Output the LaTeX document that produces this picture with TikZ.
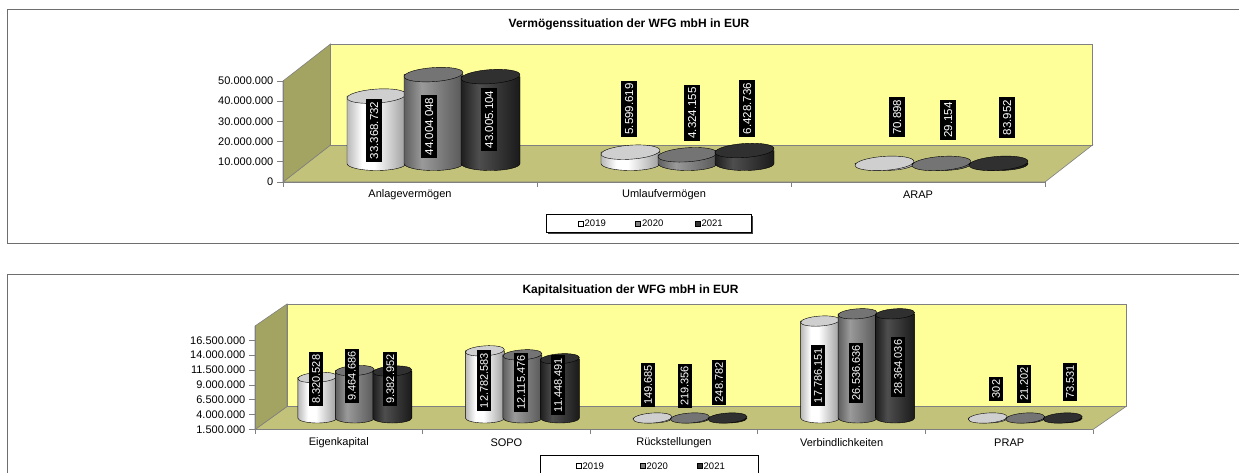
\documentclass[tikz,border=0pt]{standalone}
\usepackage{fontspec}
\setmainfont{Liberation Sans}
\usetikzlibrary{shadows}
\definecolor{backwall}{HTML}{FFFF99}
\definecolor{sidewall}{HTML}{A3A362}
\definecolor{floorc}{HTML}{C2C27A}
\definecolor{edgec}{HTML}{808080}
\definecolor{framec}{HTML}{6E6E6E}
\definecolor{aL}{HTML}{B8B8B8}
\definecolor{aR}{HTML}{9E9E9E}
\definecolor{topA}{HTML}{CFCFCF}
\definecolor{bL}{HTML}{5E5E5E}
\definecolor{bM}{HTML}{9A9A9A}
\definecolor{bR}{HTML}{585858}
\definecolor{topB}{HTML}{747474}
\definecolor{cL}{HTML}{1E1E1E}
\definecolor{cM}{HTML}{4E4E4E}
\definecolor{cR}{HTML}{1A1A1A}
\definecolor{topC}{HTML}{303030}
\definecolor{legB}{HTML}{808080}
\definecolor{legC}{HTML}{333333}
\pgfdeclarehorizontalshading{bodyA}{100bp}{color(0bp)=(aL); color(25bp)=(aL); color(38bp)=(white); color(48bp)=(white); color(75bp)=(aR); color(100bp)=(aR)}
\pgfdeclarehorizontalshading{bodyB}{100bp}{color(0bp)=(bL); color(25bp)=(bL); color(40bp)=(bM); color(75bp)=(bR); color(100bp)=(bR)}
\pgfdeclarehorizontalshading{bodyC}{100bp}{color(0bp)=(cL); color(25bp)=(cL); color(40bp)=(cM); color(75bp)=(cR); color(100bp)=(cR)}
\newcommand\cylinder[6]{%
  \begin{scope}[shift={(#1,#2)}]
    \shadedraw[shading=body#6, draw=black, line width=0.4pt]
      (-#4,-#3) -- (-#4,0) arc[start angle=180, end angle=0, x radius=#4, y radius=#5] -- (#4,-#3) -- cycle;
    \filldraw[fill=top#6, draw=black, line width=0.4pt, rotate around={4:(0,-#3)}]
      (0,-#3) ellipse[x radius=#4, y radius=#5];
  \end{scope}}
\tikzset{
  wallline/.style={draw=edgec, line width=0.6pt},
  axline/.style={draw=edgec, line width=0.7pt},
  chartframe/.style={draw=framec, line width=0.9pt},
  axlab/.style={anchor=east, inner sep=0pt, font=\fontsize{11}{12}\selectfont},
  catlab/.style={inner sep=0pt, font=\fontsize{11}{12}\selectfont},
  titlelab/.style={inner sep=0pt, font=\bfseries\fontsize{12}{14}\selectfont},
  dlab/.style={fill=black, text=white, rotate=90, inner xsep=2.5pt, inner ysep=3.9pt,
    text height=8.2pt, text depth=0pt, font=\fontsize{11.5}{12}\selectfont},
  dlabB/.style={dlab, inner ysep=3.1pt, text height=7.8pt, font=\fontsize{11}{12}\selectfont},
  legbox/.style={draw=black, line width=0.9pt, fill=white, inner sep=0pt,
    drop shadow={shadow xshift=1.2pt, shadow yshift=-1.2pt, fill=black!75, opacity=1}},
  legmark/.style={draw=black, line width=0.4pt, minimum size=5pt, inner sep=0pt},
  legtext/.style={anchor=west, inner sep=0pt, font=\fontsize{9.5}{11}\selectfont},
}
\begin{document}
\begin{tikzpicture}[x=1pt,y=-1pt]
\useasboundingbox (0,0) rectangle (1239,472);
\fill[white] (0,0) rectangle (1239,472);

% ---------- frames ----------
\draw[chartframe] (7,9) rectangle (1262,243);
\draw[chartframe] (7,274) rectangle (1262,495);

% ================= TOP CHART =================
\node[titlelab] (t1) at (629,24) {Vermögenssituation der WFG mbH in EUR};
\filldraw[wallline, fill=floorc] (283,182) -- (1045,182) -- (1092.5,145) -- (330.5,145) -- cycle;
\filldraw[wallline, fill=backwall] (330.5,145) rectangle (1092.5,44);
\filldraw[wallline, fill=sidewall] (283,182) -- (283,81) -- (330.5,44) -- (330.5,145) -- cycle;
\draw[axline] (283,182) -- (283,81);
\draw[axline] (283,182) -- (1045,182);
\foreach \yy/\lab [count=\i] in {182/0, 161.8/10.000.000, 141.6/20.000.000, 121.4/30.000.000, 101.2/40.000.000, 81/50.000.000}{
  \draw[axline] (277,\yy) -- (283,\yy);
  \node[axlab] (ya\i) at (273.5,\yy) {\lab};
}
\foreach \xx in {283,537,791,1045}{ \draw[axline] (\xx,182) -- (\xx,186.5); }
\node[catlab] (ca1) at (410,195) {Anlagevermögen};
\node[catlab] (ca2) at (664,195) {Umlaufvermögen};
\node[catlab] (ca3) at (918,195) {ARAP};

\cylinder{376.5}{163.5}{67.40}{29.5}{7}{A}
\cylinder{433.5}{163.5}{88.89}{29.5}{7}{B}
\cylinder{490.5}{163.5}{86.87}{29.5}{7}{C}
\cylinder{630.5}{163.5}{11.31}{29.5}{7}{A}
\cylinder{687.5}{163.5}{8.73}{29.5}{7}{B}
\cylinder{744.5}{163.5}{12.99}{29.5}{7}{C}
\cylinder{884.5}{163.5}{0.14}{29.5}{7}{A}
\cylinder{941.5}{163.5}{0.06}{29.5}{7}{B}
\cylinder{998.5}{163.5}{0.17}{29.5}{7}{C}

\node[dlab] (la1) at (374,130.5) {33.368.732};
\node[dlab] (la2) at (429,126.5) {44.004.048};
\node[dlab] (la3) at (489,119.5) {43.005.104};
\node[dlab] (lu1) at (629,109) {5.599.619};
\node[dlab] (lu2) at (692,113) {4.324.155};
\node[dlab] (lu3) at (747,108.5) {6.428.736};
\node[dlab] (lr1) at (897,117.3) {70.898};
\node[dlab] (lr2) at (948,120) {29.154};
\node[dlab] (lr3) at (1007,117.5) {83.952};

\node[legbox, minimum width=205pt, minimum height=18.4pt] (leg1) at (649.2,223.5) {};
\node[legmark, fill=white] (m11) at (580.5,223.5) {};
\node[legtext] (t11) at (584.5,223.5) {2019};
\node[legmark, fill=legB] (m12) at (638,223.5) {};
\node[legtext] (t12) at (642,223.5) {2020};
\node[legmark, fill=legC] (m13) at (697.3,223.5) {};
\node[legtext] (t13) at (701.3,223.5) {2021};

% ================= BOTTOM CHART =================
\node[titlelab] (t2) at (630.5,290) {Kapitalsituation der WFG mbH in EUR};
\filldraw[wallline, fill=floorc] (255,429.5) -- (1093,429.5) -- (1126,406.5) -- (287,406.5) -- cycle;
\filldraw[wallline, fill=backwall] (287,406.5) rectangle (1126,304);
\filldraw[wallline, fill=sidewall] (255,429.5) -- (255,326) -- (287,304) -- (287,406.5) -- cycle;
\draw[axline] (255,429.5) -- (255,326);
\draw[axline] (255,429.5) -- (1093,429.5);
\foreach \yy/\lab [count=\i] in {429.5/1.500.000, 414.6/4.000.000, 399.8/6.500.000, 384.9/9.000.000, 370.0/11.500.000, 355.1/14.000.000, 340.3/16.500.000}{
  \draw[axline] (249,\yy) -- (255,\yy);
  \node[axlab] (yb\i) at (245.5,\yy) {\lab};
}
\foreach \xx in {255,422.6,590.2,757.8,925.4,1093}{ \draw[axline] (\xx,429.5) -- (\xx,434); }
\node[catlab] (cb1) at (338.8,443) {Eigenkapital};
\node[catlab] (cb2) at (506.4,443) {SOPO};
\node[catlab] (cb3) at (674,443) {Rückstellungen};
\node[catlab] (cb4) at (841.6,443) {Verbindlichkeiten};
\node[catlab] (cb5) at (1009.2,443) {PRAP};

\cylinder{317.3}{418}{40.60}{19.5}{5}{A}
\cylinder{354.8}{418}{47.41}{19.5}{5}{B}
\cylinder{392.3}{418}{46.93}{19.5}{5}{C}
\cylinder{484.9}{418}{67.16}{19.5}{5}{A}
\cylinder{522.4}{418}{63.19}{19.5}{5}{B}
\cylinder{559.9}{418}{59.22}{19.5}{5}{C}
\cylinder{652.5}{418}{0}{19.5}{5}{A}
\cylinder{690}{418}{0}{19.5}{5}{B}
\cylinder{727.5}{418}{0}{19.5}{5}{C}
\cylinder{820.1}{418}{96.95}{19.5}{5}{A}
\cylinder{857.6}{418}{104.2}{19.5}{5}{B}
\cylinder{895.1}{418}{104.2}{19.5}{5}{C}
\cylinder{987.7}{418}{0}{19.5}{5}{A}
\cylinder{1025.2}{418}{0}{19.5}{5}{B}
\cylinder{1062.7}{418}{0}{19.5}{5}{C}

\node[dlabB] (le1) at (316,379.3) {8.320.528};
\node[dlabB] (le2) at (351.7,376) {9.464.686};
\node[dlabB] (le3) at (390.3,379) {9.382.952};
\node[dlabB] (ls1) at (484,380.5) {12.782.583};
\node[dlabB] (ls2) at (521,382.5) {12.115.476};
\node[dlabB] (ls3) at (558,385) {11.448.491};
\node[dlabB] (lk1) at (648,385) {149.685};
\node[dlabB] (lk2) at (684.5,386) {219.356};
\node[dlabB] (lk3) at (719,382.3) {248.782};
\node[dlabB] (lv1) at (818,375.5) {17.786.151};
\node[dlabB] (lv2) at (856,372.7) {26.536.636};
\node[dlabB] (lv3) at (898,367.3) {28.364.036};
\node[dlabB] (lp1) at (996,389) {302};
\node[dlabB] (lp2) at (1024,384) {21.202};
\node[dlabB] (lp3) at (1070,382) {73.531};

\node[legbox, minimum width=218pt, minimum height=22pt] (leg2) at (649,466) {};
\node[legmark, fill=white] (m21) at (578.5,466) {};
\node[legtext] (t21) at (582.5,466) {2019};
\node[legmark, fill=legB] (m22) at (642.5,466) {};
\node[legtext] (t22) at (646.5,466) {2020};
\node[legmark, fill=legC] (m23) at (699.5,466) {};
\node[legtext] (t23) at (703.5,466) {2021};
\end{tikzpicture}
\end{document}
